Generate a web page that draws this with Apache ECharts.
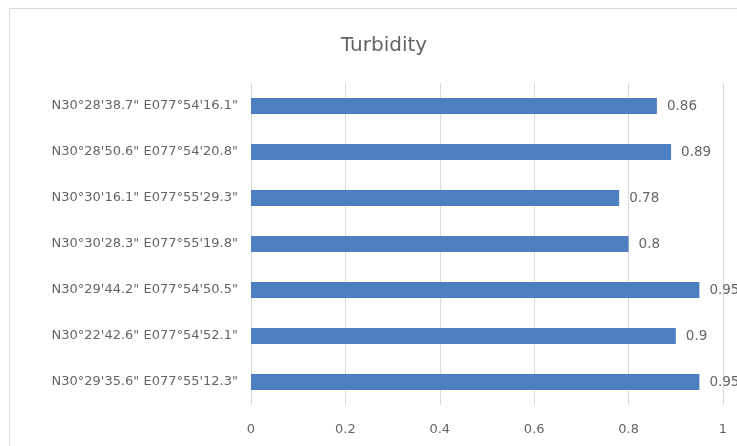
<!DOCTYPE html>
<html>
<head>
<meta charset="utf-8">
<script src="https://cdn.jsdelivr.net/npm/echarts@6/dist/echarts.min.js"></script>
<style>
  html, body { margin: 0; padding: 0; background: #fff; }
  #chart { width: 737px; height: 446px; }
</style>
</head>
<body>
<div id="chart"></div>
<script>
// Sampling sites, listed bottom to top as the category axis draws them
const sites = [
  'N30°29\'35.6" E077°55\'12.3"',
  'N30°22\'42.6" E077°54\'52.1"',
  'N30°29\'44.2" E077°54\'50.5"',
  'N30°30\'28.3" E077°55\'19.8"',
  'N30°30\'16.1" E077°55\'29.3"',
  'N30°28\'50.6" E077°54\'20.8"',
  'N30°28\'38.7" E077°54\'16.1"'
];
const turbidity = [0.95, 0.9, 0.95, 0.8, 0.78, 0.89, 0.86];

const FONT = '"DejaVu Sans", sans-serif';
const TEXT = '#656565';

const chart = echarts.init(document.getElementById('chart'), null, { renderer: 'canvas' });
chart.setOption({
  animation: false,
  backgroundColor: '#fff',
  graphic: [{
    type: 'rect',
    shape: { x: 9.5, y: 8.5, width: 900, height: 600 },
    style: { fill: 'none', stroke: '#d9d9d9', lineWidth: 1 },
    silent: true,
    z: -1
  }],
  title: {
    text: 'Turbidity',
    left: 379,
    top: 31,
    textAlign: 'center',
    textStyle: { fontFamily: FONT, fontSize: 20, fontWeight: 'normal', color: TEXT }
  },
  grid: { left: 251, right: 14, top: 83, bottom: 41, containLabel: false },
  xAxis: {
    type: 'value',
    min: 0,
    max: 1,
    interval: 0.2,
    axisLine: { show: false },
    axisTick: { show: false },
    splitLine: { show: true, lineStyle: { color: '#dadada', width: 1 } },
    axisLabel: {
      margin: 18,
      fontFamily: FONT,
      fontSize: 13,
      color: TEXT,
      formatter: v => String(+v.toFixed(1))
    }
  },
  yAxis: {
    type: 'category',
    data: sites,
    axisLine: { show: false },
    axisTick: { show: false },
    splitLine: { show: false },
    axisLabel: { margin: 13, fontFamily: FONT, fontSize: 13, color: TEXT }
  },
  series: [{
    type: 'bar',
    data: turbidity,
    barWidth: 16,
    itemStyle: { color: '#4e7fc0' },
    label: {
      show: true,
      position: 'right',
      distance: 10,
      fontFamily: FONT,
      fontSize: 13.5,
      color: TEXT
    }
  }]
});
</script>
</body>
</html>
